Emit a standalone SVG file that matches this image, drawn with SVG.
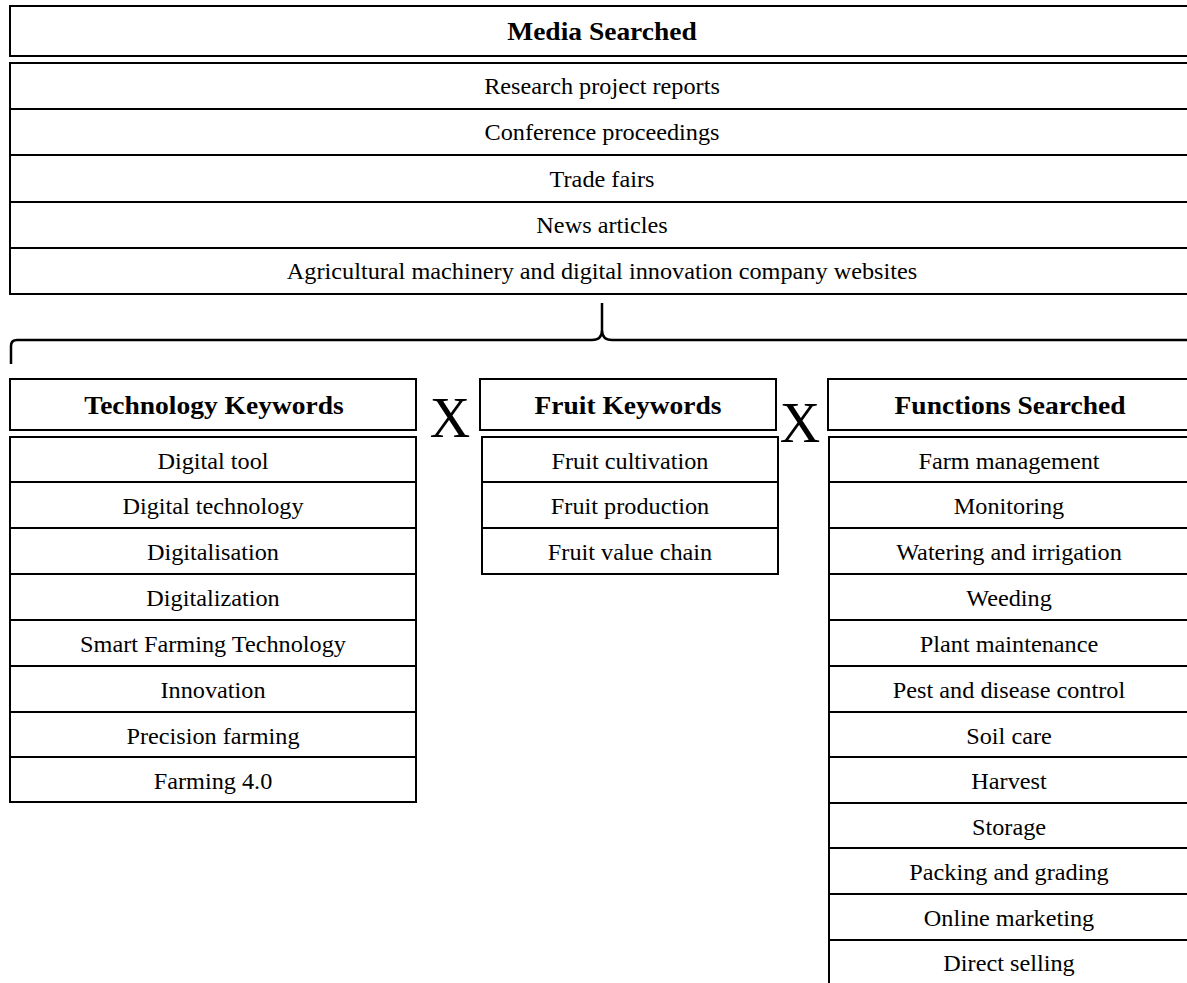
<svg xmlns="http://www.w3.org/2000/svg" width="1187" height="983" viewBox="0 0 1187 983">
<style>
.box{fill:#fff;stroke:#000;stroke-width:2}
.ln{stroke:#000;stroke-width:2;fill:none}
.hd{font-family:"Liberation Serif","Times New Roman",serif;font-weight:bold;font-size:25px;text-anchor:middle;fill:#000}
.tx{font-family:"Liberation Serif","Times New Roman",serif;font-size:23px;text-anchor:middle;fill:#000}
.x{font-family:"Liberation Serif","Times New Roman",serif;font-size:56px;text-anchor:middle;fill:#000}
</style>
<rect width="1187" height="983" fill="#fff"/>
<g id="media">
<rect class="box" x="10" y="6" width="1200" height="50"/>
<text class="hd" transform="translate(602,40) scale(1.1,1)">Media Searched</text>
<rect class="box" x="10" y="63" width="1200" height="231"/>
<line class="ln" x1="10" y1="109" x2="1190" y2="109"/>
<line class="ln" x1="10" y1="155" x2="1190" y2="155"/>
<line class="ln" x1="10" y1="202" x2="1190" y2="202"/>
<line class="ln" x1="10" y1="248" x2="1190" y2="248"/>
<text class="tx" transform="translate(602,93.5) scale(1.055,1)">Research project reports</text>
<text class="tx" transform="translate(602,139.5) scale(1.055,1)">Conference proceedings</text>
<text class="tx" transform="translate(602,186.5) scale(1.055,1)">Trade fairs</text>
<text class="tx" transform="translate(602,232.5) scale(1.055,1)">News articles</text>
<text class="tx" transform="translate(602,278.5) scale(1.055,1)">Agricultural machinery and digital innovation company websites</text>
</g>
<g id="connectors">
<path d="M11,364 L11,346 Q11,340 17,340 L592,340 Q602,340 602,330 L602,303 M602,330 Q602,340 612,340 L1195,340" fill="none" stroke="#000" stroke-width="2.5"/>
</g>
<g id="technology">
<rect class="box" x="10" y="379" width="406" height="51"/>
<text class="hd" transform="translate(214,414) scale(1.1,1)">Technology Keywords</text>
<rect class="box" x="10" y="437" width="406" height="365"/>
<line class="ln" x1="10" y1="482" x2="416" y2="482"/>
<line class="ln" x1="10" y1="528" x2="416" y2="528"/>
<line class="ln" x1="10" y1="574" x2="416" y2="574"/>
<line class="ln" x1="10" y1="620" x2="416" y2="620"/>
<line class="ln" x1="10" y1="666" x2="416" y2="666"/>
<line class="ln" x1="10" y1="712" x2="416" y2="712"/>
<line class="ln" x1="10" y1="757" x2="416" y2="757"/>
<text class="tx" transform="translate(213,468.5) scale(1.055,1)">Digital tool</text>
<text class="tx" transform="translate(213,514) scale(1.055,1)">Digital technology</text>
<text class="tx" transform="translate(213,560) scale(1.055,1)">Digitalisation</text>
<text class="tx" transform="translate(213,606) scale(1.055,1)">Digitalization</text>
<text class="tx" transform="translate(213,652) scale(1.055,1)">Smart Farming Technology</text>
<text class="tx" transform="translate(213,698) scale(1.055,1)">Innovation</text>
<text class="tx" transform="translate(213,743.5) scale(1.055,1)">Precision farming</text>
<text class="tx" transform="translate(213,789) scale(1.055,1)">Farming 4.0</text>
</g>
<g id="x1"><text class="x" x="450" y="437">X</text></g>
<g id="fruit">
<rect class="box" x="480" y="379" width="296" height="51"/>
<text class="hd" transform="translate(628,414) scale(1.1,1)">Fruit Keywords</text>
<rect class="box" x="482" y="437" width="296" height="137"/>
<line class="ln" x1="482" y1="482" x2="778" y2="482"/>
<line class="ln" x1="482" y1="528" x2="778" y2="528"/>
<text class="tx" transform="translate(630,468.5) scale(1.055,1)">Fruit cultivation</text>
<text class="tx" transform="translate(630,514) scale(1.055,1)">Fruit production</text>
<text class="tx" transform="translate(630,560) scale(1.055,1)">Fruit value chain</text>
</g>
<g id="x2"><text class="x" x="800" y="442">X</text></g>
<g id="functions">
<rect class="box" x="828" y="379" width="400" height="51"/>
<text class="hd" transform="translate(1010,414) scale(1.1,1)">Functions Searched</text>
<rect class="box" x="829" y="437" width="400" height="560"/>
<line class="ln" x1="829" y1="482" x2="1190" y2="482"/>
<line class="ln" x1="829" y1="528" x2="1190" y2="528"/>
<line class="ln" x1="829" y1="574" x2="1190" y2="574"/>
<line class="ln" x1="829" y1="620" x2="1190" y2="620"/>
<line class="ln" x1="829" y1="666" x2="1190" y2="666"/>
<line class="ln" x1="829" y1="712" x2="1190" y2="712"/>
<line class="ln" x1="829" y1="757" x2="1190" y2="757"/>
<line class="ln" x1="829" y1="803" x2="1190" y2="803"/>
<line class="ln" x1="829" y1="848" x2="1190" y2="848"/>
<line class="ln" x1="829" y1="894" x2="1190" y2="894"/>
<line class="ln" x1="829" y1="940" x2="1190" y2="940"/>
<text class="tx" transform="translate(1009,468.5) scale(1.055,1)">Farm management</text>
<text class="tx" transform="translate(1009,514) scale(1.055,1)">Monitoring</text>
<text class="tx" transform="translate(1009,560) scale(1.055,1)">Watering and irrigation</text>
<text class="tx" transform="translate(1009,606) scale(1.055,1)">Weeding</text>
<text class="tx" transform="translate(1009,652) scale(1.055,1)">Plant maintenance</text>
<text class="tx" transform="translate(1009,698) scale(1.055,1)">Pest and disease control</text>
<text class="tx" transform="translate(1009,743.5) scale(1.055,1)">Soil care</text>
<text class="tx" transform="translate(1009,789) scale(1.055,1)">Harvest</text>
<text class="tx" transform="translate(1009,834.5) scale(1.055,1)">Storage</text>
<text class="tx" transform="translate(1009,880) scale(1.055,1)">Packing and grading</text>
<text class="tx" transform="translate(1009,926) scale(1.055,1)">Online marketing</text>
<text class="tx" transform="translate(1009,971) scale(1.055,1)">Direct selling</text>
</g>
</svg>
